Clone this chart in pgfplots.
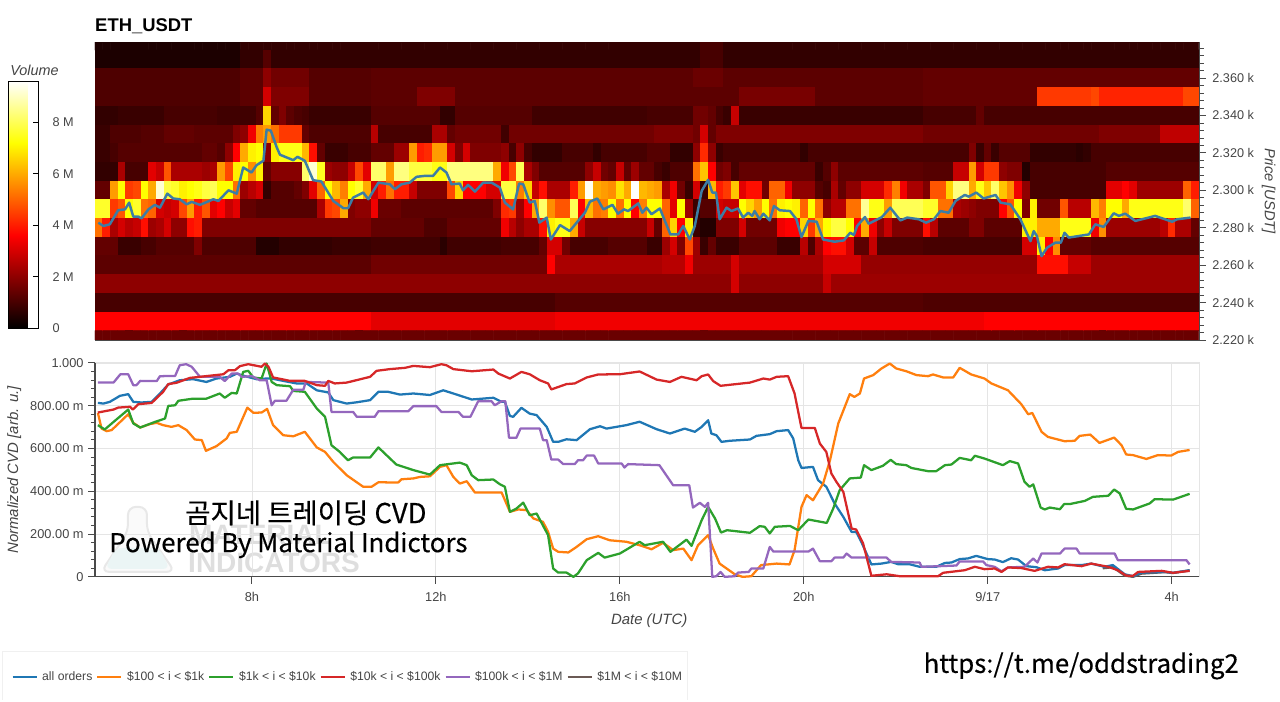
\documentclass[border=0pt]{standalone}
\usepackage{fontspec}
\usepackage{pgfplots}
\pgfplotsset{compat=1.18}
\setmainfont{Liberation Sans}
\newfontfamily\krfont{Noto Sans CJK KR}[FakeBold=0.35]
\definecolor{txt}{HTML}{444444}
\definecolor{axl}{HTML}{4a4a4a}
\definecolor{gridc}{HTML}{E5E5E5}
\definecolor{cblue}{HTML}{1F77B4}
\definecolor{corange}{HTML}{FF7F0E}
\definecolor{cgreen}{HTML}{2CA02C}
\definecolor{cred}{HTML}{D62728}
\definecolor{cpurple}{HTML}{9467BD}
\definecolor{cbrown}{HTML}{6B5A55}
\definecolor{priceline}{RGB}{60,125,165}
\pgfplotsset{colormap={hot}{rgb255(0cm)=(0,0,0); rgb255(3cm)=(255,0,0); rgb255(6cm)=(255,255,0); rgb255(8cm)=(255,255,255)}}
\gdef\coords{}
\newcommand\heatrow[2]{%
  \gdef\rowc{}%
  \foreach \v [count=\i from 0] in {#2}{%
    \pgfmathsetmacro\xh{4.6703+\i*0.166667}%
    \xdef\rowc{\rowc (\xh,#1) [\v] }%
  }%
  \xdef\coords{\coords\rowc}%
}
% Volume in units of 100 k, one row per 10 USD price level, 144 bins of 10 minutes
\heatrow{2380}{4,4,4,4,4,4,4,4,4,4,4,4, 4,4,4,4,4,4,4,7,7,7,7,7, 7,7,7,7,7,7,7,7,7,7,7,7,
7,7,7,7,7,7,7,7,7,7,7,7, 7,7,7,7,7,7,7,7,7,7,7,7, 7,7,7,7,7,7,7,7,7,7,7,7,
7,7,7,7,7,7,7,10,10,10,7,7, 7,7,7,7,7,7,7,7,7,7,7,7, 7,7,7,7,7,7,7,7,7,7,7,7,
7,7,7,7,7,7,7,7,7,7,7,7, 7,7,7,7,7,7,7,7,7,7,7,7, 7,7,7,7,7,7,7,7,7,7,7,7}
\heatrow{2370}{4,4,4,4,4,4,4,4,4,4,4,4, 4,4,4,4,4,4,4,7,7,7,12,7, 7,7,7,7,7,7,7,7,7,7,7,7,
7,7,7,7,7,7,7,7,7,7,7,7, 7,7,7,7,7,7,7,7,7,7,7,7, 7,7,7,7,7,7,7,7,7,7,7,7,
7,7,7,7,7,7,7,10,10,10,7,7, 7,7,7,7,7,7,7,7,7,7,7,7, 7,7,7,7,7,7,7,7,7,7,7,7,
7,7,7,7,7,7,7,7,7,7,7,7, 7,7,7,7,7,7,7,7,7,7,7,7, 7,7,7,7,7,7,7,7,7,7,7,7}
\heatrow{2360}{11,11,11,11,11,11,11,11,11,11,11,11, 11,11,11,11,11,11,11,13,13,13,20,16, 16,16,16,16,12,12,12,12,12,12,12,12,
13,13,13,13,13,13,13,13,13,13,13,13, 13,13,13,13,13,13,13,13,13,13,13,13, 13,13,13,13,13,13,13,13,13,13,13,13,
13,13,13,13,13,13,15,15,15,15,13,13, 13,13,13,13,13,13,13,13,13,13,13,13, 13,13,13,13,13,13,13,13,13,13,13,13,
14,14,14,14,14,14,14,14,14,14,14,14, 14,14,14,14,14,14,14,14,14,14,14,14, 14,14,14,14,14,14,14,14,14,14,14,14}
\heatrow{2350}{11,11,11,11,11,11,11,11,11,11,11,11, 11,11,11,11,11,11,11,13,13,13,30,18, 18,18,18,18,12,12,12,12,12,12,12,12,
13,13,13,13,13,13,18,18,18,18,18,13, 13,13,13,13,13,13,13,13,13,13,13,13, 13,13,13,13,13,13,13,13,13,13,13,13,
13,13,13,13,13,13,13,13,13,13,13,13, 17,17,17,17,17,17,17,17,17,17,13,13, 13,13,13,13,13,13,13,13,13,13,13,13,
14,14,14,14,14,14,14,14,14,14,14,14, 14,14,14,44,44,44,44,44,44,44,46,41, 41,41,41,41,41,41,41,41,41,41,46,46}
\heatrow{2340}{7,7,7,8,8,8,8,8,8,10,10,10, 10,10,10,10,9,9,9,9,9,12,66,14, 18,13,11,10,8,8,8,8,8,8,8,8,
12,12,12,12,12,12,12,12,12,7,7,12, 12,12,12,12,12,12,12,12,12,9,9,9, 9,9,9,9,9,9,9,9,9,9,9,9,
10,10,10,10,10,10,16,16,14,10,8,28, 8,8,8,8,8,8,8,8,8,8,8,8, 8,8,8,8,8,8,8,8,8,8,8,8,
10,10,10,10,10,10,10,14,10,10,10,10, 10,10,10,10,10,10,10,10,10,10,10,10, 10,10,10,10,10,10,10,10,10,10,10,10}
\heatrow{2330}{8,8,11,11,11,11,12,12,12,14,14,14, 14,13,13,13,13,13,18,20,34,54,58,52, 44,44,44,14,11,11,11,11,11,11,11,11,
26,10,10,10,10,10,10,10,24,24,14,16, 16,16,16,16,16,9,16,16,16,16,16,16, 16,16,16,16,16,16,16,16,16,16,16,16,
16,18,18,18,18,18,16,30,14,18,18,18, 18,18,18,18,18,18,18,18,18,18,18,18, 18,18,18,18,18,18,18,18,18,18,18,18,
16,16,16,16,16,16,16,16,16,16,16,16, 16,16,16,16,16,16,16,16,16,16,16,18, 18,18,18,18,18,18,18,27,27,27,27,27}
\heatrow{2320}{8,8,10,12,12,12,12,12,12,12,12,12, 12,12,14,14,12,20,36,60,70,72,20,70, 74,74,74,62,38,14,8,8,8,10,10,10,
14,14,14,22,22,58,40,42,58,58,30,18, 30,18,18,18,18,20,10,20,10,7,7,7, 7,10,10,10,10,7,10,10,10,10,10,10,
12,12,12,7,7,7,20,42,20,8,10,10, 10,10,10,10,10,10,10,10,7,10,10,10, 10,10,10,10,10,10,10,10,10,10,10,10,
10,10,10,10,10,10,18,8,14,8,12,12, 12,12,7,7,7,7,7,7,6,7,10,10, 10,10,10,10,10,10,10,10,10,10,10,10}
\heatrow{2310}{7,7,7,24,10,10,10,32,28,48,24,24, 24,24,22,24,58,46,70,72,56,70,14,19, 19,19,19,82,92,75,22,20,20,28,46,32,
82,82,58,84,84,78,78,78,74,74,84,84, 84,84,84,84,60,34,46,80,24,18,12,12, 12,12,12,12,20,28,16,14,28,14,22,14,
14,10,8,11,11,11,52,64,36,16,18,10, 14,14,14,14,14,14,14,14,14,14,8,12, 20,13,13,13,13,13,13,13,13,13,13,13,
12,12,12,12,28,28,58,30,44,44,20,18, 18,5,10,10,10,10,10,10,10,10,10,10, 12,12,12,12,12,12,12,12,12,12,12,12}
\heatrow{2300}{14,14,58,72,44,46,72,60,92,78,76,70, 72,74,78,80,72,72,52,22,26,30,7,12, 12,12,14,18,32,50,72,62,54,72,76,60,
30,40,52,40,40,28,18,18,18,18,46,66, 36,36,36,30,30,78,78,54,66,28,38,24, 24,24,40,58,95,60,58,56,68,60,96,62,
60,58,24,34,16,8,30,8,62,40,44,64, 32,38,38,16,50,50,34,20,20,20,12,10, 24,14,20,20,30,30,30,42,54,34,24,24,
18,48,48,66,84,84,60,74,64,82,64,56, 34,20,10,10,10,10,10,10,10,10,10,10, 32,32,36,32,22,22,22,22,22,22,50,40}
\heatrow{2290}{76,76,44,48,72,76,52,50,30,28,30,46, 58,40,48,32,36,28,32,14,14,12,12,12, 12,12,12,12,12,24,44,46,60,18,20,20,
34,15,15,15,13,13,13,13,13,13,13,13, 13,13,13,13,18,42,44,22,36,60,82,56, 48,48,80,36,62,52,54,72,52,72,36,54,
72,72,50,32,72,22,8,12,12,30,28,28, 72,66,58,72,52,70,72,70,50,72,52,20, 26,26,52,52,86,74,74,58,80,80,80,80,
76,76,52,52,24,22,20,18,18,18,36,48, 72,18,70,16,16,16,48,26,26,26,62,54, 72,72,60,74,74,74,74,74,74,74,82,50}
\heatrow{2280}{52,40,24,30,26,28,38,22,24,30,20,20, 38,40,18,18,18,18,18,18,18,18,18,18, 18,18,18,18,18,18,18,18,18,18,18,18,
14,14,14,14,14,14,14,11,11,11,14,14, 14,14,14,14,14,34,26,20,24,24,38,70, 74,74,60,28,19,19,19,19,19,19,19,19,
28,14,50,66,36,70,8,5,5,18,18,18, 30,16,16,16,16,34,36,36,66,44,60,72, 78,78,72,36,60,34,20,28,18,18,18,18,
38,26,13,13,13,13,18,18,13,13,13,13, 13,70,70,60,60,60,74,74,74,74,34,56, 22,22,22,22,22,22,22,26,42,24,24,14}
\heatrow{2270}{14,14,14,8,8,8,10,10,12,12,12,12, 12,18,11,11,11,11,11,11,11,5,5,5, 7,7,7,7,7,7,7,8,8,8,8,8,
9,9,9,9,9,9,9,9,9,6,9,9, 9,9,9,9,9,10,10,10,10,10,14,30, 30,16,10,10,10,10,10,12,12,12,12,12,
8,8,22,30,18,46,22,8,14,8,8,8, 13,13,13,13,13,8,8,8,26,11,24,36, 38,38,30,13,13,28,11,11,11,11,11,11,
10,10,10,10,10,10,10,10,10,10,10,10, 10,30,30,70,36,56,14,14,14,14,12,12, 12,12,12,12,12,12,12,12,12,12,12,12}
\heatrow{2260}{13,13,13,13,13,13,13,13,13,13,13,13, 13,13,13,13,13,13,13,13,13,13,13,13, 13,13,13,13,13,13,13,13,13,13,13,13,
16,16,16,16,16,16,16,16,16,16,16,16, 16,16,16,16,16,16,16,16,16,16,16,36, 24,24,24,24,24,24,24,24,24,24,24,24,
24,24,26,26,26,34,22,22,22,22,22,30, 23,23,23,23,23,23,23,23,23,23,23,30, 30,30,30,30,21,21,21,21,21,21,21,21,
21,21,21,21,21,21,21,21,21,21,21,21, 21,21,21,38,38,38,38,28,28,28,22,22, 22,22,22,22,22,22,22,22,22,22,22,22}
\heatrow{2250}{20,20,20,20,20,20,20,20,20,20,20,20, 20,20,20,20,20,20,20,20,20,20,20,20, 20,20,20,20,20,20,20,20,20,20,20,20,
20,20,20,20,20,20,20,20,20,20,20,20, 20,20,20,20,20,20,20,20,20,20,20,20, 20,20,20,20,20,20,20,20,20,20,20,20,
20,20,20,20,20,20,20,20,20,20,20,30, 20,20,20,20,20,20,20,20,20,20,20,28, 22,22,22,22,22,22,22,22,22,22,22,22,
22,22,22,22,22,22,22,22,22,22,22,22, 22,22,22,22,22,22,22,22,22,22,22,22, 22,22,22,22,22,22,22,22,22,22,22,22}
\heatrow{2240}{10,10,10,10,10,10,10,10,10,10,10,10, 10,10,10,10,10,10,10,10,10,10,10,10, 10,10,10,10,10,10,10,10,10,10,10,10,
10,10,10,10,10,10,10,10,10,10,10,10, 10,10,10,10,10,10,10,10,10,10,10,10, 12,12,12,12,12,12,12,12,12,12,12,12,
12,12,12,12,12,12,12,12,12,12,12,12, 12,12,12,12,12,12,12,12,12,12,12,12, 12,12,12,12,12,12,12,12,12,12,12,12,
11,11,11,11,11,11,11,11,11,11,11,11, 11,11,11,11,11,11,11,11,11,11,11,11, 11,11,11,11,11,11,11,11,11,11,11,11}
\heatrow{2230}{36,36,36,36,36,36,36,36,36,36,36,36, 36,36,36,36,36,36,36,36,36,36,36,36, 36,36,36,36,36,36,36,36,36,36,36,36,
32,32,32,32,32,32,32,32,32,32,32,32, 32,32,32,32,32,32,32,32,32,32,32,32, 34,34,34,34,34,34,34,34,34,34,34,34,
34,34,34,34,34,34,34,34,34,34,34,34, 34,34,34,34,34,34,34,34,34,34,34,34, 34,34,34,34,34,34,34,34,34,34,34,34,
34,34,34,34,34,34,34,34,36,36,36,36, 36,36,36,36,36,36,36,36,36,36,36,36, 36,36,36,36,36,36,36,36,36,36,36,36}
\heatrow{2220}{15,15,15,15,15,15,15,15,15,15,15,15, 15,15,15,15,15,15,15,15,15,15,15,15, 15,15,15,15,15,15,15,15,15,15,15,15,
15,15,15,15,15,15,15,15,15,15,15,15, 15,15,15,15,15,15,15,15,15,15,15,15, 15,15,15,15,15,15,15,15,15,15,15,15,
15,15,15,15,15,15,15,15,15,15,15,15, 15,15,15,15,15,15,15,15,15,15,15,15, 15,15,15,15,15,15,15,15,15,15,15,15,
15,15,15,15,15,15,15,15,15,15,15,15, 15,15,15,15,15,15,15,15,15,15,15,15, 15,15,15,15,15,15,15,15,15,15,15,15}
\begin{document}
\begin{tikzpicture}
\begin{scope}[x=0.75pt,y=-0.75pt]
\useasboundingbox (0,0) rectangle (1280,697);
% watermark
\fill[color=black!2,draw=black!9,line width=1.5pt,rounded corners=6pt] (128,507)--(147,507)--(147,532)--(175,572)--(101,572)--(128,532)--cycle;
\fill[color=teal!8,rounded corners=5pt] (116,548)--(159,548)--(170,569)--(105,569)--cycle;
\node[anchor=base west,inner sep=0pt,text=black!13,font=\fontsize{21pt}{24pt}\bfseries] at (189,545) {MATERIAL};
\node[anchor=base west,inner sep=0pt,text=black!13,font=\fontsize{21pt}{24pt}\bfseries] at (188,573) {INDICATORS};
\end{scope}
% heat map
\begin{axis}[
  at={(71.25pt,-31.9pt)},anchor=north west,
  width=828.75pt,height=223.1pt,scale only axis,
  xmin=4.587,xmax=28.609,ymin=2220,ymax=2379,
  colormap name=hot,point meta min=0,point meta max=96,
  xtick=\empty,
  ytick={2220,2240,2260,2280,2300,2320,2340,2360},
  yticklabels={2.220 k,2.240 k,2.260 k,2.280 k,2.300 k,2.320 k,2.340 k,2.360 k},
  minor ytick={2224,2228,...,2376},
  ytick pos=right,yticklabel pos=right,
  tick align=outside,major tick length=4.5pt,minor tick length=3pt,
  tick style={draw=axl,line width=0.6pt},
  axis line style={draw=axl,line width=0.5pt},
  yticklabel style={text=txt,font=\fontsize{9.5pt}{11pt}\selectfont,xshift=1.5pt},
  ylabel={\textit{Price [USDT]}},
  ylabel style={at={(axis description cs:1.0625,0.5)},anchor=center,rotate=180,text=txt,font=\fontsize{11pt}{13pt}\selectfont},
  colorbar,
  colorbar style={
    at={(parent axis.north west)},anchor=north west,xshift=-73.5pt,yshift=-29pt,
    width=22.5pt,height=185.25pt,
    ytick={0,20,40,60,80},yticklabels={0,2 M,4 M,6 M,8 M},
    ytick pos=right,yticklabel pos=right,tick align=inside,
    major tick length=4pt,tick style={draw=black,line width=0.6pt},
    axis line style={draw=black,line width=0.7pt},
    yticklabel style={text=txt,font=\fontsize{9.5pt}{11pt}\selectfont,xshift=7.2pt},
  },
]
\edef\temp{\noexpand\addplot[matrix plot*,mesh/cols=144,mesh/rows=17,point meta=explicit] coordinates {\coords};}\temp
\addplot[priceline,line width=1.85pt,line join=round] coordinates {(4.66,2282.7)(4.77,2280.9)(4.91,2281.8)(5.09,2289.3)(5.24,2289.8)(5.33,2293.4)(5.42,2285.9)(5.53,2285.9)(5.6,2285)(5.75,2289.8)(5.89,2292.2)(6,2290.7)(6.16,2298.2)(6.29,2295.6)(6.43,2295.2)(6.58,2292.5)(6.69,2293.8)(6.87,2292.2)(7.16,2295.2)(7.27,2294.3)(7.49,2300)(7.67,2298.2)(7.81,2312.2)(7.99,2309.5)(8.1,2313.4)(8.25,2315.8)(8.32,2332.4)(8.41,2331.9)(8.54,2322.9)(8.61,2319)(8.9,2316.1)(8.99,2317.9)(9.15,2315.8)(9.33,2305.4)(9.51,2304.7)(9.77,2294.3)(9.99,2290.4)(10.09,2290.4)(10.2,2296.1)(10.42,2298.8)(10.53,2295.2)(10.75,2304.1)(11,2303.2)(11.11,2300.6)(11.25,2303.2)(11.43,2304.1)(11.58,2307.2)(11.76,2307.7)(11.94,2307.7)(12.09,2312.2)(12.23,2309.5)(12.34,2303.2)(12.52,2303.6)(12.59,2300)(12.7,2302.9)(12.85,2299.3)(13.03,2304.1)(13.21,2304.1)(13.39,2301.5)(13.5,2293.4)(13.68,2289.8)(13.81,2303.6)(13.9,2303.2)(14.04,2293.4)(14.15,2294.3)(14.25,2282.7)(14.41,2285.4)(14.5,2273.7)(14.7,2281.4)(14.91,2278.2)(15.24,2288)(15.35,2293.9)(15.51,2295.6)(15.64,2289.8)(15.84,2292.2)(15.96,2287.5)(16.09,2289.8)(16.18,2288.9)(16.4,2293)(16.49,2288)(16.58,2290.7)(16.69,2287.2)(16.87,2290.3)(17.1,2276.4)(17.27,2276.4)(17.38,2280.9)(17.52,2273.7)(17.63,2280.9)(17.78,2299.7)(17.92,2305.6)(18.01,2298.8)(18.09,2298.8)(18.17,2284.5)(18.32,2290.7)(18.43,2288.9)(18.57,2290.3)(18.68,2285.4)(18.79,2288)(18.88,2286.3)(18.93,2288.9)(19.04,2284.5)(19.12,2287.5)(19.26,2283.9)(19.35,2291.6)(19.48,2289.3)(19.7,2288.9)(19.84,2284.5)(19.95,2275)(20.1,2283.6)(20.28,2283.2)(20.42,2273.7)(20.67,2272.5)(20.87,2273.2)(21.01,2277.3)(21.09,2276.1)(21.16,2280.9)(21.33,2285.7)(21.41,2282.1)(21.7,2285.7)(21.88,2290.7)(22.1,2283.9)(22.25,2285.4)(22.5,2284.5)(22.66,2282.7)(22.83,2284.5)(22.97,2288.9)(23.15,2288)(23.3,2294.3)(23.5,2297.5)(23.59,2296.6)(23.75,2298.8)(23.91,2295.6)(24.17,2297.5)(24.28,2293.4)(24.49,2292.5)(24.71,2284.5)(24.93,2272.8)(25,2278.2)(25.07,2275.5)(25.17,2264.8)(25.29,2269.3)(25.47,2272)(25.59,2272)(25.67,2277.3)(25.76,2274.7)(26.2,2276.4)(26.34,2281.8)(26.52,2280.4)(26.74,2287.7)(26.85,2286.3)(26.99,2287.5)(27.21,2283.6)(27.64,2286.3)(28.01,2283.2)(28.12,2284.5)(28.41,2285.4)};
\end{axis}
% CVD panel
\begin{axis}[
  at={(71.25pt,-272.25pt)},anchor=north west,
  width=828.75pt,height=160.5pt,scale only axis,
  xmin=4.587,xmax=28.609,ymin=0,ymax=1000,clip=false,
  axis x line*=bottom,axis y line*=left,axis line style={-,draw=axl,line width=0.9pt},
  xtick={8,12,16,20,24,28},xticklabels={8h,12h,16h,20h,9/17,4h},
  ytick={0,200,400,600,800,1000},
  yticklabels={0,200.00 m,400.00 m,600.00 m,800.00 m,1.000},
  minor ytick={40,80,120,160,240,280,320,360,440,480,520,560,640,680,720,760,840,880,920,960},
  tick align=outside,major tick length=5pt,minor tick length=3pt,
  tick style={draw=axl,line width=0.7pt},
  grid=major,grid style={draw=gridc,line width=0.6pt},
  ticklabel style={text=txt,font=\fontsize{9.6pt}{11pt}\selectfont},
  xticklabel style={yshift=-3pt},
  xlabel={\textit{Date (UTC)}},
  xlabel style={at={(axis description cs:0.5017,-0.205)},anchor=center,text=txt,font=\fontsize{11.2pt}{13pt}\selectfont},
  ylabel={\textit{Normalized CVD [arb. u.]}},
  ylabel style={at={(axis description cs:-0.073,0.5)},anchor=center,text=txt,font=\fontsize{11.2pt}{13pt}\selectfont},
  legend style={at={(axis description cs:-0.0842,-0.3505)},anchor=north west,draw=none,fill=none,
    legend columns=-1,font=\fontsize{9.15pt}{11pt}\selectfont,text=txt,
    inner xsep=7pt,inner ysep=12.5pt,
    /tikz/every even column/.append style={column sep=1.0pt},
    /tikz/every odd column/.append style={column sep=1.4pt}},
  legend image code/.code={\draw[#1,line width=1.6pt] (0pt,0pt)--(18pt,0pt);},
]
\draw[gridc,line width=0.7pt] (rel axis cs:0,1)--(rel axis cs:1,1)--(rel axis cs:1,0);
\addlegendimage{cblue}\addlegendentry{all orders}
\addlegendimage{corange}\addlegendentry{\$100 < i < \$1k}
\addlegendimage{cgreen}\addlegendentry{\$1k < i < \$10k}
\addlegendimage{cred}\addlegendentry{\$10k < i < \$100k}
\addlegendimage{cpurple}\addlegendentry{\$100k < i < \$1M}
\addlegendimage{cbrown}\addlegendentry{\$1M < i < \$10M}
% $1M < i < $10M
\addplot[cbrown,line width=1.7pt,forget plot] coordinates {(26.5,40)(26.72,45)(26.98,6)(27.16,0)(27.34,15)(27.85,22)(28.03,18)(28.39,30)};
% all orders
\addplot[cblue,line width=1.7pt,line join=round,forget plot] coordinates {(4.65,813)(4.77,810)(4.91,818)(5.13,846)(5.31,854)(5.42,818)(5.6,815)(5.82,818)(6,857)(6.18,899)(6.43,919)(6.72,924)(7.01,911)(7.23,927)(7.52,935)(7.67,950)(7.85,938)(8.1,924)(8.32,927)(8.43,927)(8.68,916)(8.97,904)(9.19,904)(9.41,872)(9.66,862)(9.77,826)(10.06,810)(10.28,816)(10.57,826)(10.75,865)(10.96,865)(11.22,852)(11.51,857)(11.87,850)(12.16,872)(12.38,857)(12.78,829)(13.25,837)(13.43,818)(13.5,818)(13.61,752)(13.68,748)(13.86,790)(14.04,763)(14.19,756)(14.41,701)(14.55,631)(14.66,631)(14.84,643)(15.06,639)(15.35,690)(15.57,704)(15.71,693)(16.14,709)(16.43,725)(16.8,690)(17.09,670)(17.41,693)(17.63,678)(17.78,701)(17.92,732)(17.99,670)(18.1,662)(18.21,631)(18.39,636)(18.83,642)(18.97,659)(19.26,667)(19.41,681)(19.66,686)(19.77,647)(19.88,545)(19.95,509)(20.2,514)(20.31,452)(20.49,421)(20.67,343)(20.86,280)(21.04,210)(21.14,210)(21.25,164)(21.47,58)(21.69,62)(21.9,70)(22.05,59)(22.3,59)(22.52,47)(22.88,47)(23.07,65)(23.21,67)(23.39,83)(23.57,86)(23.75,98)(24,83)(24.15,81)(24.33,69)(24.51,87)(24.66,81)(24.84,50)(25.06,45)(25.24,31)(25.53,39)(25.67,55)(26.04,55)(26.25,62)(26.54,47)(26.72,55)(26.98,12)(27.16,3)(27.34,20)(27.85,23)(28.03,19)(28.39,31)};
% $100 < i < $1k
\addplot[corange,line width=1.7pt,line join=round,forget plot] coordinates {(4.65,767)(4.73,693)(4.84,681)(4.95,686)(5.31,760)(5.42,720)(5.57,698)(5.78,714)(5.93,720)(6.07,709)(6.25,701)(6.4,709)(6.58,686)(6.76,642)(6.91,639)(7,589)(7.23,611)(7.45,647)(7.52,673)(7.67,678)(7.9,791)(8.03,767)(8.21,768)(8.33,785)(8.46,709)(8.68,662)(8.9,657)(9.15,678)(9.41,605)(9.59,584)(9.77,537)(10.06,475)(10.42,421)(10.6,421)(10.75,442)(11.18,441)(11.25,456)(11.51,460)(11.65,467)(11.87,470)(12.09,514)(12.23,522)(12.38,467)(12.52,436)(12.67,447)(12.85,394)(13.07,394)(13.43,394)(13.61,304)(13.79,315)(13.97,312)(14.12,273)(14.33,257)(14.44,210)(14.55,132)(14.66,117)(14.88,114)(15.06,140)(15.28,176)(15.53,190)(15.78,171)(16.14,164)(16.43,148)(16.69,129)(16.94,159)(17.16,125)(17.38,132)(17.56,78)(17.7,148)(17.92,195)(18.03,132)(18.17,62)(18.5,12)(18.67,0)(18.86,3)(19.07,55)(19.41,62)(19.69,58)(19.8,125)(19.95,327)(20.06,382)(20.2,358)(20.42,436)(20.57,545)(20.75,717)(21,854)(21.1,841)(21.22,857)(21.31,927)(21.51,943)(21.69,974)(21.87,997)(22.01,974)(22.23,961)(22.45,943)(22.7,938)(22.81,946)(23.03,932)(23.25,932)(23.39,977)(23.64,946)(23.93,927)(24.08,904)(24.44,872)(24.73,807)(24.88,760)(24.97,766)(25.17,678)(25.31,654)(25.67,634)(25.89,636)(26,659)(26.23,665)(26.43,626)(26.75,651)(26.91,615)(27.01,572)(27.16,569)(27.45,551)(27.7,569)(27.99,567)(28.14,584)(28.39,593)};
% $1k < i < $10k
\addplot[cgreen,line width=1.7pt,line join=round,forget plot] coordinates {(4.65,709)(4.8,689)(4.99,724)(5.31,782)(5.42,717)(5.57,698)(5.89,724)(6.11,740)(6.18,799)(6.33,802)(6.4,823)(6.72,833)(7.01,833)(7.3,857)(7.41,837)(7.56,860)(7.67,857)(7.81,958)(7.92,963)(8.03,932)(8.21,927)(8.32,997)(8.43,911)(8.54,896)(8.83,891)(8.9,869)(9.15,865)(9.41,787)(9.59,748)(9.73,615)(9.91,584)(10.09,545)(10.2,558)(10.57,558)(10.75,605)(11.14,525)(11.51,499)(11.87,478)(12.09,522)(12.52,534)(12.67,522)(12.78,475)(12.92,452)(13.25,455)(13.39,433)(13.5,421)(13.61,304)(13.75,319)(13.9,347)(14.04,288)(14.19,296)(14.44,195)(14.55,39)(14.66,20)(14.84,20)(14.99,0)(15.09,16)(15.28,78)(15.53,112)(15.67,90)(16,109)(16.22,137)(16.43,164)(16.54,148)(16.94,164)(17.1,117)(17.45,174)(17.56,145)(17.78,265)(17.92,327)(18.07,273)(18.2,207)(18.33,218)(18.83,206)(19.04,237)(19.15,234)(19.26,203)(19.37,234)(19.7,238)(19.88,218)(20.1,268)(20.5,252)(20.64,319)(20.78,405)(21,460)(21.24,464)(21.31,522)(21.47,499)(21.72,519)(21.89,547)(22.01,527)(22.23,522)(22.34,509)(22.7,494)(22.88,494)(23.07,522)(23.21,525)(23.39,556)(23.64,545)(23.72,566)(23.93,553)(24.33,522)(24.48,541)(24.66,530)(24.8,444)(24.91,421)(24.99,432)(25.15,324)(25.24,315)(25.35,324)(25.57,316)(25.66,340)(25.78,340)(26.11,355)(26.29,374)(26.62,379)(26.75,408)(26.87,390)(27.01,318)(27.16,315)(27.52,343)(27.63,363)(28.03,361)(28.39,388)};
% $100k < i < $1M
\addplot[cpurple,line width=1.7pt,line join=round,forget plot] coordinates {(4.65,908)(4.99,908)(5.14,947)(5.31,947)(5.42,896)(5.49,896)(5.57,916)(5.93,915)(6,938)(6.33,939)(6.43,989)(6.57,994)(6.69,982)(6.87,935)(7.3,935)(7.41,915)(7.56,950)(7.7,950)(7.78,935)(8,938)(8.17,919)(8.32,919)(8.43,802)(8.5,823)(8.75,823)(8.9,875)(9.12,875)(9.17,911)(9.66,908)(9.73,771)(10.2,771)(10.28,748)(10.67,748)(10.75,774)(11.4,774)(11.51,798)(12.01,798)(12.12,771)(12.49,771)(12.59,748)(12.75,748)(12.92,821)(13.21,821)(13.28,802)(13.43,821)(13.51,821)(13.59,650)(13.75,650)(13.84,693)(14.26,693)(14.33,639)(14.41,639)(14.51,548)(14.66,548)(14.77,527)(15.02,527)(15.09,545)(15.2,545)(15.28,567)(15.44,567)(15.53,530)(16.04,530)(16.1,511)(16.18,527)(16.86,522)(17.16,428)(17.51,428)(17.59,324)(17.74,346)(17.85,327)(17.92,346)(18.01,0)(18.1,3)(18.19,23)(18.28,0)(18.5,3)(18.57,20)(18.8,23)(18.86,39)(19.12,39)(19.26,140)(19.34,118)(20.1,118)(20.2,132)(20.35,73)(20.6,73)(20.67,90)(20.86,90)(20.93,109)(21.04,90)(21.8,90)(21.9,70)(22.52,67)(22.56,47)(22.96,50)(23.32,53)(23.39,72)(23.9,72)(23.97,55)(24.15,47)(24.3,26)(24.44,44)(24.8,47)(24.99,86)(25.08,67)(25.17,109)(25.57,109)(25.67,132)(25.93,132)(26,109)(26.76,109)(26.83,78)(28.32,78)(28.39,58)};
% $10k < i < $100k
\addplot[cred,line width=1.7pt,line join=round,forget plot] coordinates {(4.65,768)(4.99,782)(5.09,791)(5.35,795)(5.41,782)(5.53,807)(5.82,813)(6.07,865)(6.18,901)(6.36,907)(6.65,930)(6.87,935)(7.38,947)(7.49,966)(7.63,966)(7.74,985)(7.92,994)(8.21,982)(8.28,997)(8.36,982)(8.46,932)(8.83,916)(9.15,916)(9.41,896)(9.59,893)(9.66,916)(9.8,904)(10.06,908)(10.57,935)(10.71,963)(11,971)(11.33,977)(11.51,986)(11.87,980)(12.12,994)(12.23,989)(12.38,971)(12.78,961)(13.25,969)(13.36,950)(13.61,927)(13.86,958)(14.04,947)(14.26,919)(14.44,904)(14.51,876)(14.84,901)(15.02,904)(15.28,932)(15.53,946)(16,947)(16.43,960)(16.8,922)(17.09,911)(17.34,935)(17.67,919)(17.78,938)(17.92,946)(18.03,915)(18.19,893)(18.83,908)(19.12,927)(19.26,922)(19.41,935)(19.66,938)(19.8,857)(19.95,696)(20.24,696)(20.35,623)(20.49,584)(20.6,483)(20.71,444)(20.86,397)(21.04,226)(21.14,221)(21.29,156)(21.47,5)(21.8,12)(22.09,3)(22.92,3)(23.03,19)(23.5,31)(23.72,47)(23.93,36)(24.15,39)(24.3,23)(24.44,44)(24.73,41)(25.02,28)(25.31,47)(25.53,44)(25.67,59)(26.04,50)(26.25,62)(26.62,47)(26.83,31)(27.01,6)(27.16,5)(27.27,23)(27.78,28)(28.03,19)(28.39,28)};
\end{axis}
\begin{scope}[x=0.75pt,y=-0.75pt]
\node[anchor=base west,inner sep=0pt,font=\fontsize{13.8pt}{16pt}\bfseries] at (95,32) {ETH\_USDT};
\node[anchor=base west,inner sep=0pt,text=txt,font=\fontsize{10.8pt}{13pt}\itshape] at (10,76) {Volume};
\draw[color=black!6,line width=0.7pt] (2,700)--(2,652)--(688,652)--(688,700);
\node[anchor=center,inner sep=0pt,font=\krfont\fontsize{20.6pt}{24pt}\selectfont] at (306,513) {곰지네 트레이딩 CVD};
\node[anchor=center,inner sep=0pt,font=\krfont\fontsize{19.4pt}{23pt}\selectfont] at (288.5,545) {Powered By Material Indictors};
\node[anchor=center,inner sep=0pt,font=\krfont\fontsize{19.35pt}{23pt}\selectfont] at (1081.5,666) {https://t.me/oddstrading2};
\end{scope}
\end{tikzpicture}
\end{document}
